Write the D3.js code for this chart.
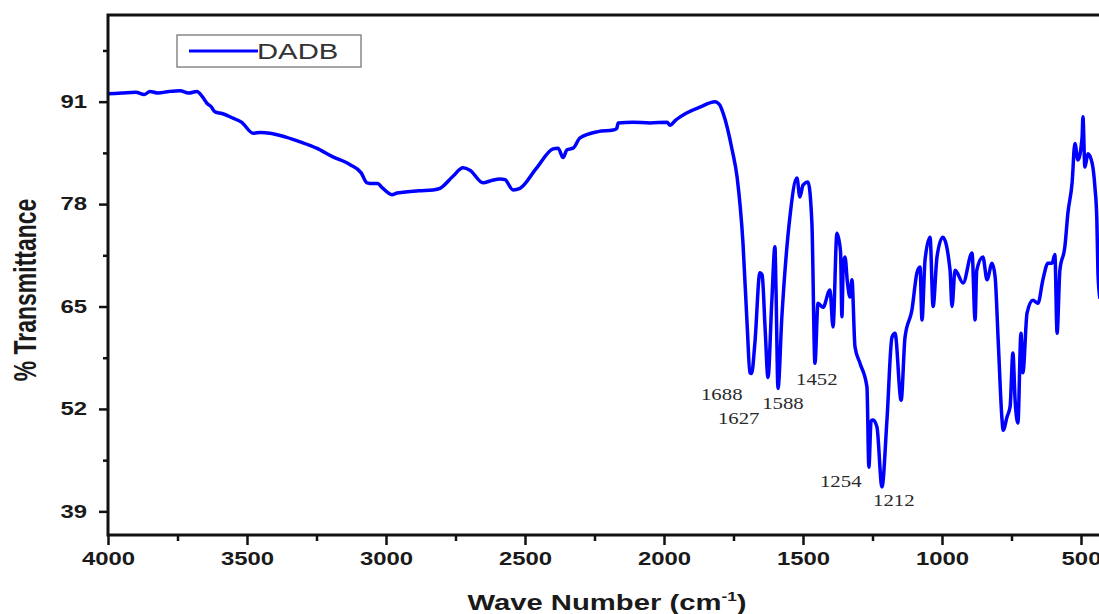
<!DOCTYPE html>
<html>
  <head>
    <meta charset="utf-8"/>
    <style>
    body {
      margin: 0;
      background: #fff;
    }
    text {
      font-family: "Liberation Sans", Arial, sans-serif;
    }
    </style>
  </head>
  <body>
    <script src="https://d3js.org/d3.v7.min.js"></script>
    <script>
    var width = 1099, height = 614;

    // FTIR spectrum of DADB
    var wavenumber = [4000, 3950, 3900, 3870, 3849, 3820, 3780, 3741, 3710, 3680, 3660, 3644, 3630, 3615, 3590,
      3550, 3520, 3478, 3450, 3417, 3360, 3309, 3250, 3191, 3129, 3090, 3068, 3047, 3030, 3014, 2979, 2960,
      2939, 2880, 2831, 2806, 2760, 2723, 2698, 2651, 2620, 2590, 2572, 2543, 2518, 2460, 2399, 2381, 2363,
      2349, 2327, 2302, 2237, 2183, 2170, 2165, 2112, 2050, 1989, 1978, 1960, 1917, 1871, 1817, 1800, 1788,
      1755, 1737, 1716, 1700, 1691, 1685, 1673, 1655, 1647, 1636, 1626, 1612, 1601, 1597, 1590, 1576, 1547,
      1522, 1511, 1500, 1482, 1468, 1457, 1446, 1428, 1403, 1392, 1378, 1365, 1360, 1355, 1349, 1340, 1331,
      1324, 1313, 1295, 1270, 1263, 1255, 1248, 1234, 1216, 1198, 1180, 1169, 1147, 1133, 1108, 1090, 1079,
      1072, 1061, 1043, 1032, 1018, 997, 971, 964, 953, 924, 892, 881, 875, 853, 838, 820, 809, 798, 784,
      780, 766, 755, 745, 737, 727, 716, 709, 694, 673, 655, 637, 619, 604, 594, 586, 576, 558, 547, 532,
      522, 511, 496, 493, 486, 475, 460, 450, 443, 439, 432];
    var transmittance = [92.0, 92.1, 92.2, 91.9, 92.3, 92.1, 92.3, 92.4, 92.1, 92.3, 91.6, 90.8, 90.4, 89.7, 89.5,
      88.9, 88.4, 87.0, 87.1, 87.0, 86.5, 85.9, 85.1, 84.0, 83.0, 82.0, 80.7, 80.6, 80.6, 80.1, 79.2, 79.4,
      79.5, 79.7, 79.8, 80.0, 81.5, 82.6, 82.3, 80.7, 81.0, 81.2, 81.1, 79.8, 80.0, 82.5, 85.0, 85.1, 83.9,
      84.9, 85.1, 86.4, 87.2, 87.4, 87.6, 88.3, 88.4, 88.3, 88.4, 88.0, 88.6, 89.6, 90.3, 91.0, 90.6, 89.6,
      84.9, 81.4, 73.1, 62.0, 56.6, 56.5, 60.4, 69.3, 69.0, 62.0, 56.0, 65.8, 72.6, 67.0, 54.6, 63.7, 76.4,
      81.3, 78.9, 80.4, 80.8, 75.6, 57.8, 65.4, 64.9, 67.1, 62.4, 74.3, 72.0, 63.7, 70.5, 71.3, 68.0, 66.2,
      68.4, 59.9, 57.8, 54.8, 44.6, 50.5, 50.6, 49.7, 42.1, 50.6, 61.1, 61.6, 53.1, 61.1, 64.6, 69.3, 70.0,
      63.3, 70.9, 73.8, 65.0, 71.3, 73.8, 69.6, 65.0, 69.6, 68.0, 71.8, 63.3, 69.6, 71.3, 68.4, 70.5, 68.8,
      60.8, 50.6, 49.3, 51.0, 52.3, 59.1, 53.1, 50.2, 61.6, 56.6, 64.2, 65.8, 65.4, 68.4, 70.5, 70.5, 71.6,
      61.6, 69.6, 72.6, 76.9, 80.7, 85.7, 83.6, 86.5, 89.1, 82.7, 84.4, 83.2, 80.2, 76.0, 69.3, 66.0];

    var yTicks = [39, 52, 65, 78, 91];
    var yMinor = [45.5, 58.5, 71.5, 84.5, 97.5];
    var xTicks = [4000, 3500, 3000, 2500, 2000, 1500, 1000, 500];
    var xMinor = [3750, 3250, 2750, 2250, 1750, 1250, 750];

    // peak labels: text, wavenumber / transmittance of the label's left baseline
    var peakText = ["1688", "1627", "1588", "1452", "1254", "1212"];
    var peakX = [1867, 1806, 1647, 1525, 1439, 1248];
    var peakY = [53.1, 50.1, 52.0, 55.0, 42.1, 39.7];

    var stretch = 1.33; // the source picture is wider than tall

    var x = d3.scaleLinear().domain([4000, 400]).range([108, 1108.8]);
    var y = d3.scaleLinear().domain([36, 102]).range([535, 15]);

    var svg = d3.select("body").append("svg")
        .attr("width", width)
        .attr("height", height);

    // minor ticks
    svg.append("g")
        .attr("transform", "translate(0,535)")
        .call(d3.axisBottom(x).tickValues(xMinor).tickSize(6).tickFormat(""))
        .call(styleAxis);
    svg.append("g")
        .attr("transform", "translate(108,0)")
        .call(d3.axisLeft(y).tickValues(yMinor).tickSize(5).tickFormat(""))
        .call(styleAxis);

    // major ticks
    var xAxis = svg.append("g")
        .attr("transform", "translate(0,535)")
        .call(d3.axisBottom(x).tickValues(xTicks).tickSize(10).tickPadding(7).tickFormat(d3.format("d")))
        .call(styleAxis);
    xAxis.selectAll("text").each(function(){
      var t = d3.select(this);
      t.attr("transform", "translate(0," + t.attr("y") + ") scale(" + stretch + ",1)").attr("y", 0);
    });

    var yAxis = svg.append("g")
        .attr("transform", "translate(108,0)")
        .call(d3.axisLeft(y).tickValues(yTicks).tickSize(9).tickPadding(12).tickFormat(d3.format("d")))
        .call(styleAxis);
    yAxis.selectAll("text").each(function(){
      var t = d3.select(this);
      t.attr("transform", "translate(" + t.attr("x") + ",0) scale(" + stretch + ",1)").attr("x", 0);
    });

    function styleAxis(g){
      g.select(".domain").remove();
      g.selectAll("line").attr("stroke", "#111").attr("stroke-width", 2.5);
      g.selectAll("text")
          .attr("fill", "#1a1a1a")
          .style("font-size", "18px")
          .style("font-weight", "bold");
    }

    // spectrum
    var pts = d3.zip(wavenumber, transmittance);
    var line = d3.line()
        .curve(d3.curveMonotoneX)
        .x(function(d){ return x(d[0]); })
        .y(function(d){ return y(d[1]); });

    svg.append("path")
        .datum(pts)
        .attr("d", line)
        .attr("fill", "none")
        .attr("stroke", "#0000ff")
        .attr("stroke-width", 3.5)
        .attr("stroke-linejoin", "round");

    // frame
    svg.append("path")
        .attr("d", "M" + x.range()[1] + "," + y(102) + "H108V" + y(36) + "H" + x.range()[1])
        .attr("fill", "none")
        .attr("stroke", "#111")
        .attr("stroke-width", 3);

    // peak labels
    svg.selectAll(".peak")
        .data(peakText)
      .enter().append("text")
        .attr("class", "peak")
        .attr("transform", function(d, i){
          return "translate(" + x(peakX[i]) + "," + y(peakY[i]) + ") scale(1.3,1)";
        })
        .style("font-family", "'Liberation Serif', 'Times New Roman', serif")
        .style("font-size", "16px")
        .attr("fill", "#2a2a2a")
        .text(function(d){ return d; });

    // legend
    var legend = svg.append("g");
    legend.append("rect")
        .attr("x", 177).attr("y", 35)
        .attr("width", 184).attr("height", 32)
        .attr("fill", "#fff")
        .attr("stroke", "#888")
        .attr("stroke-width", 1.5);
    legend.append("line")
        .attr("x1", 189).attr("x2", 258)
        .attr("y1", 51).attr("y2", 51)
        .attr("stroke", "#0000ff")
        .attr("stroke-width", 3);
    legend.append("text")
        .attr("transform", "translate(257,59) scale(" + stretch + ",1)")
        .style("font-size", "22px")
        .attr("fill", "#333")
        .text("DADB");

    // axis titles
    svg.append("text")
        .attr("transform", "translate(36,290) scale(" + stretch + ",1) rotate(-90)")
        .attr("text-anchor", "middle")
        .style("font-size", "23px")
        .style("font-weight", "bold")
        .attr("fill", "#1a1a1a")
        .text("% Transmittance");

    var xt = svg.append("text")
        .attr("transform", "translate(607,610) scale(" + stretch + ",1)")
        .attr("text-anchor", "middle")
        .style("font-size", "22px")
        .style("font-weight", "bold")
        .attr("fill", "#1a1a1a");
    xt.append("tspan").text("Wave Number (cm");
    xt.append("tspan").attr("dy", -9).style("font-size", "13px").text("-1");
    xt.append("tspan").attr("dy", 9).text(")");

    </script>
  </body>
</html>
